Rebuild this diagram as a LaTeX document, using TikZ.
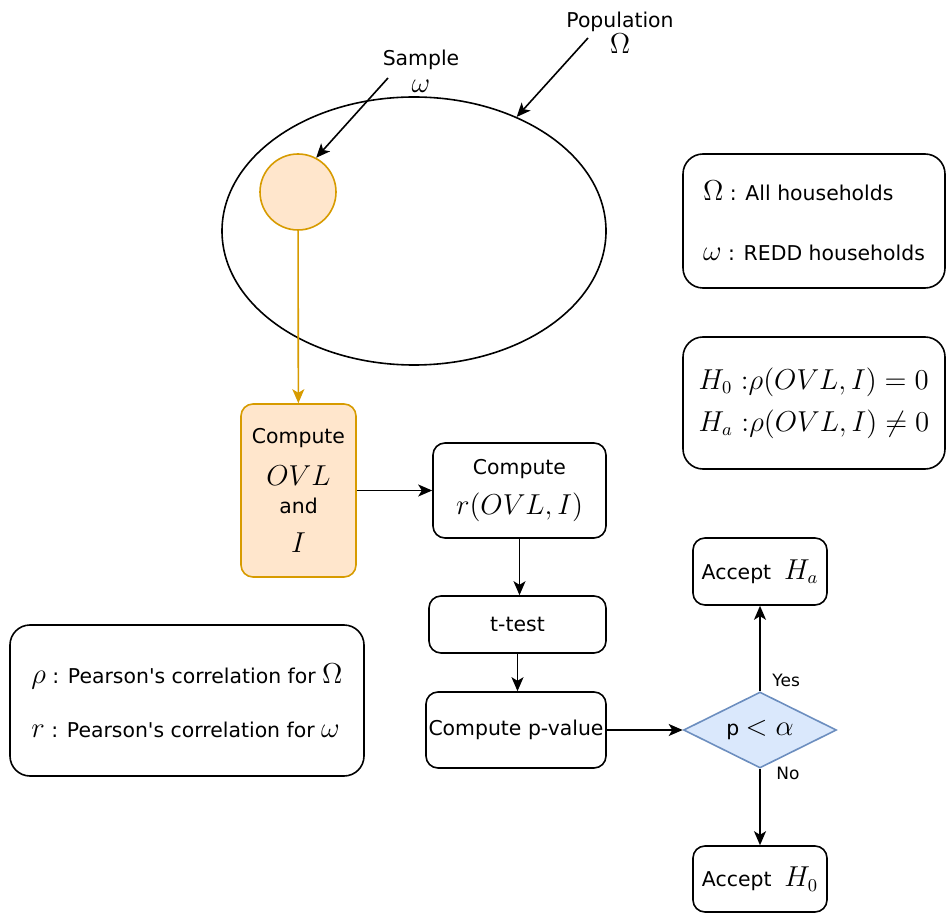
\documentclass[tikz,border=0pt]{standalone}
\usepackage[no-math]{fontspec}
\setmainfont{DejaVu Sans}
\usetikzlibrary{shapes.geometric,arrows.meta}
\definecolor{orfill}{HTML}{FFE6CC}
\definecolor{ordraw}{HTML}{D79B00}
\definecolor{blfill}{HTML}{DAE8FC}
\definecolor{bldraw}{HTML}{6C8EBF}
\newcommand{\mx}[1]{{\fontsize{13.5}{16}\selectfont$#1$}}
\tikzset{
  box/.style={draw,rounded corners=6pt,line width=0.8pt,align=center,inner sep=0pt},
  legend/.style={box,rounded corners=10pt,align=left},
  arr/.style={-{Stealth[length=7pt,width=6pt,inset=1.8pt]},line width=0.8pt},
  small/.style={font=\fontsize{8.5}{10}\selectfont,inner sep=0pt},
}
\begin{document}
\begin{tikzpicture}[x=0.5pt,y=-0.5pt,font=\fontsize{10.2}{12}\selectfont]
\useasboundingbox (0,0) rectangle (947,914);
        %population and sample
        \node (pop) at (414,231)[draw,ellipse,line width=0.8pt,minimum width=192pt,minimum height=134pt,inner sep=0pt]{};
        \node (smp) at (298,192)[draw=ordraw,fill=orfill,circle,line width=0.8pt,minimum size=38pt,inner sep=0pt]{};
        \node (poplab) at (620,33)[align=center,inner sep=0pt]{Population\\[1pt]\mx{\Omega}};
        \node (smplab) at (421,71)[align=center,inner sep=0pt]{Sample\\[1.5pt]\mx{\omega}};
        \coordinate (popa) at (588,38);
        \coordinate (smpa) at (388,78);
        \draw[arr] (popa) -- (pop.48);
        \draw[arr] (smpa) -- (smp.62);

        %steps
        \node (ovl) at (298.5,490.5)[box,draw=ordraw,fill=orfill,minimum width=57.5pt,minimum height=86.5pt]{Compute\\[9pt]\mx{OVL}\\[2pt]and\\[7.5pt]\mx{I}};
        \node (rbox) at (519.5,490.5)[box,minimum width=86.5pt,minimum height=47.5pt]{Compute\\[6pt]\mx{r(OVL,I)}};
        \node (ttest) at (517.5,624.5)[box,minimum width=88.5pt,minimum height=28.5pt]{t-test};
        \node (pval) at (516,730)[box,minimum width=90pt,minimum height=38pt]{Compute p-value};
        \node (dec) at (760,730)[draw=bldraw,fill=blfill,diamond,aspect=2,line width=0.8pt,minimum width=76.5pt,minimum height=38pt,inner sep=0pt]{p \mx{<\alpha}};
        \node (acca) at (760,571.5)[box,minimum width=67pt,minimum height=33.5pt]{Accept\ \ \mx{H_a}};
        \node (acc0) at (760,879)[box,minimum width=67pt,minimum height=33pt]{Accept\ \ \mx{H_0}};
        \node (yes) at (dec.north)[small,anchor=south west,xshift=6pt,yshift=2pt]{Yes};
        \node (no) at (dec.south)[small,anchor=north west,xshift=8pt,yshift=1pt]{No};

        %legend
        \node (leg1) at (814,221)[legend,minimum width=131pt,minimum height=67pt]{\mx{\Omega} : All households\\[18pt]\mx{\omega} : REDD households};
        \node (leg2) at (814,403)[legend,minimum width=131pt,minimum height=66pt,font=\fontsize{13.5}{16}\selectfont]{$H_0\ {:}\rho(OVL,I)=0$\\[5pt]$H_a\ {:}\rho(OVL,I)\neq0$};
        \node (leg3) at (187,700.5)[legend,minimum width=177pt,minimum height=75.5pt]{\mx{\rho} : Pearson\textquotesingle s correlation for \mx{\Omega}\\[15pt]\mx{r} : Pearson\textquotesingle s correlation for \mx{\omega}};

        %arrows
        \draw[arr,draw=ordraw] (smp) -- (ovl);
        \draw[arr] (ovl) -- (rbox);
        \draw[arr] (rbox.south) -- (rbox.south |- ttest.north);
        \draw[arr] (ttest.south) -- (ttest.south |- pval.north);
        \draw[arr] (pval) -- (dec);
        \draw[arr] (dec) -- (acca);
        \draw[arr] (dec) -- (acc0);
\end{tikzpicture}
\end{document}
